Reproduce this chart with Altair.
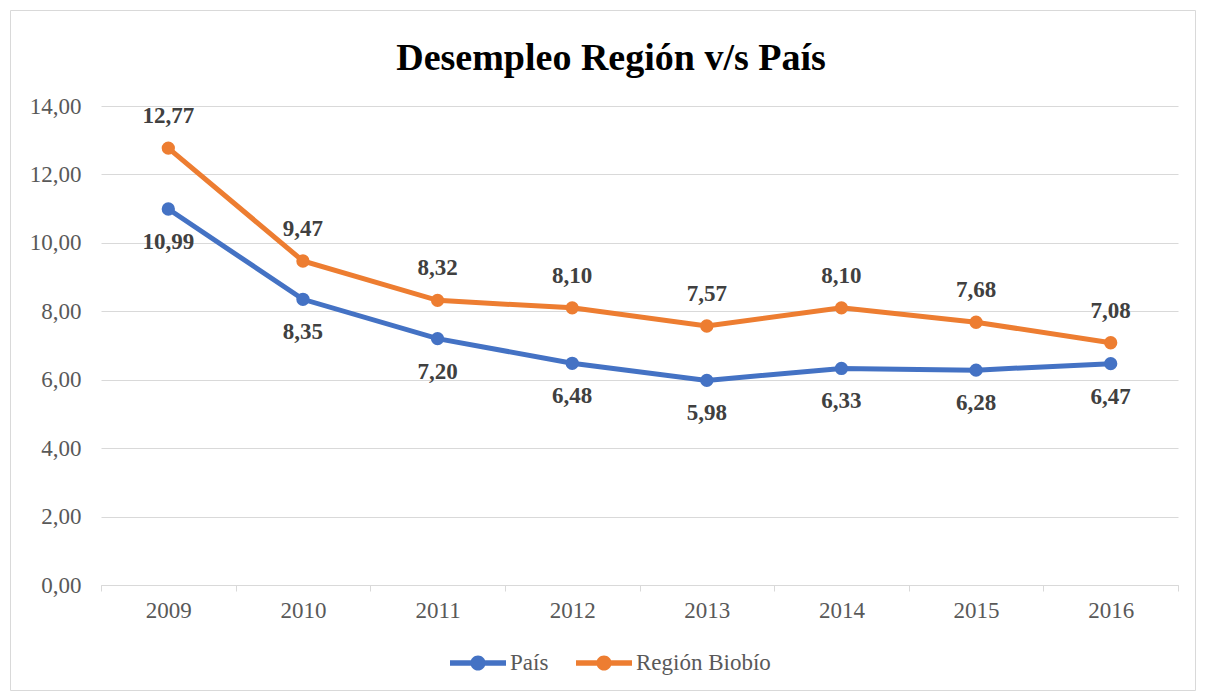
import altair as alt
import pandas as pd

years = ["2009", "2010", "2011", "2012", "2013", "2014", "2015", "2016"]
pais = [10.99, 8.35, 7.20, 6.48, 5.98, 6.33, 6.28, 6.47]
biobio = [12.77, 9.47, 8.32, 8.10, 7.57, 8.10, 7.68, 7.08]
series_names = ["País", "Región Biobío"]
colors = ["#4472C4", "#ED7D31"]
y_ticks = [0, 2, 4, 6, 8, 10, 12, 14]
title_text = "Desempleo Región v/s País"

rows = []
for yr, p, b in zip(years, pais, biobio):
    rows.append({"year": yr, "serie": series_names[0], "value": p})
    rows.append({"year": yr, "serie": series_names[1], "value": b})
df = pd.DataFrame(rows)

W, H = 1077, 479
FONT = "Liberation Serif"
GRID = "#d9d9d9"
LABEL = "#595959"
LEGEND_PATH = ("M-1,-0.095 L1,-0.095 L1,0.095 L-1,0.095 Z "
               "M0.27,0 A0.27,0.27 0 1,1 -0.27,0 A0.27,0.27 0 1,1 0.27,0 Z")

x = alt.X(
    "year:N", sort=years,
    scale=alt.Scale(type="band", paddingInner=0, paddingOuter=0),
    axis=alt.Axis(title=None, tickBand="extent", labelAngle=0, grid=False,
                  domainColor=GRID, tickColor=GRID, tickSize=6, labelPadding=8,
                  labelFont=FONT, labelFontSize=23, labelColor=LABEL),
)
y = alt.Y(
    "value:Q",
    scale=alt.Scale(domain=[0, 14], nice=False),
    axis=alt.Axis(title=None, values=y_ticks,
                  labelExpr="replace(format(datum.value, '.2f'), '.', ',')",
                  domain=False, ticks=False, tickSize=0, labelPadding=20,
                  gridColor=GRID, labelFont=FONT, labelFontSize=23, labelColor=LABEL),
)
color_scale = alt.Scale(domain=series_names, range=colors)

base = alt.Chart(df)

border = alt.Chart(alt.Data(values=[{}])).mark_rect(
    fill="white", fillOpacity=0, stroke=GRID, strokeWidth=1
).encode(
    x=alt.value(-90.5), x2=alt.value(W + 17.5),
    y=alt.value(-95.5), y2=alt.value(H + 105.5),
)

title = alt.Chart(alt.Data(values=[{"t": title_text}])).mark_text(
    font=FONT, fontSize=38, fontWeight="bold", color="#000000",
    align="center", baseline="alphabetic"
).encode(x=alt.value(510), y=alt.value(-36), text="t:N")

line_layers = []
for name, col in zip(series_names, colors):
    line_layers.append(
        base.transform_filter(alt.datum.serie == name)
        .mark_line(strokeWidth=5, color=col)
        .encode(x=x, y=y)
    )

points = base.mark_circle(size=177, opacity=1).encode(
    x=x, y=y,
    fill=alt.Fill(
        "serie:N", scale=color_scale,
        legend=alt.Legend(title=None, orient="none", legendX=349, legendY=529,
                          direction="horizontal", symbolType=LEGEND_PATH,
                          symbolSize=3136, symbolStrokeWidth=0, symbolOpacity=1,
                          labelFont=FONT, labelFontSize=23, labelColor=LABEL,
                          labelOffset=4, columnPadding=27),
    ),
)

label_expr = "replace(format(datum.value, '.2f'), '.', ',')"

labels_pais = base.transform_filter(
    alt.datum.serie == series_names[0]
).transform_calculate(label=label_expr).mark_text(
    dy=33, font=FONT, fontSize=23, fontWeight="bold", color="#404040"
).encode(x=x, y=y, text="label:N")

labels_bio = base.transform_filter(
    alt.datum.serie == series_names[1]
).transform_calculate(label=label_expr).mark_text(
    dy=-32, font=FONT, fontSize=23, fontWeight="bold", color="#404040"
).encode(x=x, y=y, text="label:N")

chart = alt.layer(border, title, *line_layers, points, labels_pais, labels_bio).properties(
    width=W, height=H,
    autosize="none",
    padding={"left": 93, "top": 98, "right": 20, "bottom": 106},
).configure_view(strokeWidth=0)

chart.save("out.html", embed_options={"renderer": "svg", "actions": False})
